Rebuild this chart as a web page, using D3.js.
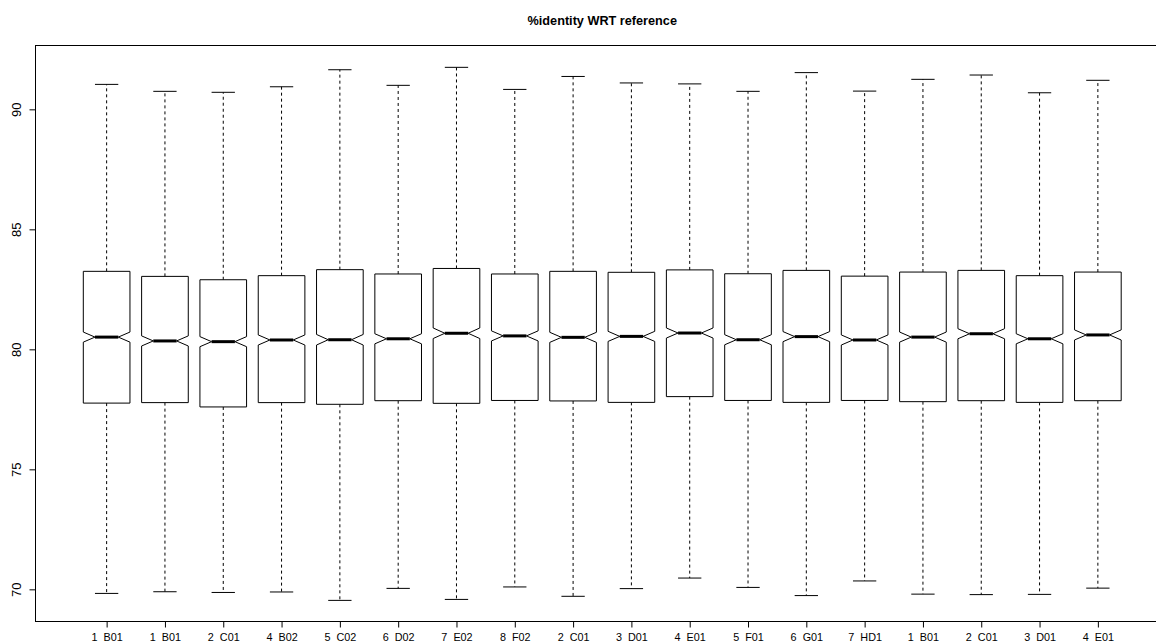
<!DOCTYPE html>
<html>
<head>
<meta charset="utf-8">
<script src="https://cdn.jsdelivr.net/npm/d3@7"></script>
<style>
  html, body { margin: 0; padding: 0; background: #fff; }
  svg { display: block; }
  text { font-family: "Liberation Sans", Arial, Helvetica, sans-serif; fill: #000; white-space: pre; }
</style>
</head>
<body>
<svg id="chart" width="1156" height="644"></svg>
<script>
// ---- data ----
const categories = ["1  B01","1  B01","2  C01","4  B02","5  C02","6  D02","7  E02","8  F02","2  C01",
                    "3  D01","4  E01","5  F01","6  G01","7  HD1","1  B01","2  C01","3  D01","4  E01"];
const upperWhisker = [91.04,90.75,90.71,90.94,91.65,91.00,91.75,90.83,91.37,
                      91.10,91.06,90.75,91.53,90.76,91.25,91.43,90.69,91.21];
const q3 = [83.25,83.04,82.90,83.07,83.32,83.14,83.37,83.14,83.25,
            83.21,83.31,83.15,83.29,83.05,83.22,83.29,83.07,83.22];
const median = [80.51,80.35,80.32,80.39,80.40,80.44,80.67,80.56,80.50,
                80.54,80.68,80.40,80.53,80.39,80.51,80.65,80.44,80.60];
const q1 = [77.76,77.78,77.60,77.78,77.71,77.86,77.75,77.87,77.85,
            77.79,78.03,77.87,77.79,77.87,77.82,77.86,77.79,77.86];
const lowerWhisker = [69.83,69.90,69.87,69.89,69.54,70.04,69.58,70.10,69.71,
                      70.03,70.47,70.08,69.74,70.35,69.80,69.78,69.79,70.05];
const notchHalf = [0.21,0.21,0.21,0.21,0.22,0.21,0.22,0.21,0.21,
                   0.21,0.21,0.21,0.21,0.21,0.21,0.21,0.21,0.21];
const yTicks = [70, 75, 80, 85, 90];
const title = "%identity WRT reference";

// ---- layout ----
const svg = d3.select("#chart");
const n = categories.length;
const xPad = (n) * 0.04;
const x = d3.scaleLinear().domain([0.5 - xPad, n + 0.5 + xPad]).range([35.5, 1169]);
const y = d3.scaleLinear().domain([68.66, 92.66]).range([621.5, 45.5]);
const unit = x(2) - x(1);
const boxW = 0.8 * unit;
const capW = boxW / 2;

// plot frame
svg.append("rect")
  .attr("x", x.range()[0]).attr("y", y.range()[1])
  .attr("width", x.range()[1] - x.range()[0])
  .attr("height", y.range()[0] - y.range()[1])
  .attr("fill", "none").attr("stroke", "#000").attr("stroke-width", 1);

// title
svg.append("text")
  .attr("x", (x.range()[0] + x.range()[1]) / 2)
  .attr("y", 25)
  .attr("text-anchor", "middle")
  .attr("font-weight", "bold")
  .attr("font-size", "12.7px")
  .text(title);

// y axis
const yAxis = d3.axisLeft(y).tickValues(yTicks).tickSize(6).tickFormat(d3.format("d"));
const gy = svg.append("g").attr("transform", `translate(${x.range()[0]},0)`).call(yAxis);
gy.select(".domain").attr("d", `M-0,${y(70)}H0V${y(90)}H-0`).attr("stroke", "#000");
gy.selectAll(".tick line").attr("stroke", "#000");
gy.selectAll(".tick text")
  .attr("font-size", "13px")
  .attr("font-family", "Liberation Sans, Arial, sans-serif")
  .attr("x", null).attr("dy", null)
  .attr("text-anchor", "middle")
  .attr("transform", "translate(-14.5,0) rotate(-90)");

// x axis
const xAxis = d3.axisBottom(x).tickValues(d3.range(1, n + 1)).tickSize(6)
  .tickFormat(i => categories[i - 1]);
const gx = svg.append("g").attr("transform", `translate(0,${y.range()[0]})`).call(xAxis);
gx.select(".domain").attr("d", `M${x(1)},0H${x(n)}`).attr("stroke", "#000");
gx.selectAll(".tick line").attr("stroke", "#000");
gx.selectAll(".tick text")
  .attr("font-size", "10.8px")
  .attr("font-family", "Liberation Sans, Arial, sans-serif")
  .attr("y", 19).attr("dy", null);

// boxes
const idx = d3.range(n);
const g = svg.append("g");

// whiskers (dashed)
g.selectAll("line.wu").data(idx).join("line")
  .attr("x1", i => x(i + 1)).attr("x2", i => x(i + 1))
  .attr("y1", i => y(q3[i])).attr("y2", i => y(upperWhisker[i]))
  .attr("stroke", "#000").attr("stroke-dasharray", "3,3");
g.selectAll("line.wl").data(idx).join("line")
  .attr("x1", i => x(i + 1)).attr("x2", i => x(i + 1))
  .attr("y1", i => y(q1[i])).attr("y2", i => y(lowerWhisker[i]))
  .attr("stroke", "#000").attr("stroke-dasharray", "3,3");

// caps
g.selectAll("line.cu").data(idx).join("line")
  .attr("x1", i => x(i + 1) - capW / 2).attr("x2", i => x(i + 1) + capW / 2)
  .attr("y1", i => y(upperWhisker[i])).attr("y2", i => y(upperWhisker[i]))
  .attr("stroke", "#000");
g.selectAll("line.cl").data(idx).join("line")
  .attr("x1", i => x(i + 1) - capW / 2).attr("x2", i => x(i + 1) + capW / 2)
  .attr("y1", i => y(lowerWhisker[i])).attr("y2", i => y(lowerWhisker[i]))
  .attr("stroke", "#000");

// notched box
g.selectAll("path.box").data(idx).join("path")
  .attr("d", i => {
    const cx = x(i + 1), l = cx - boxW / 2, r = cx + boxW / 2;
    const li = cx - boxW / 4, ri = cx + boxW / 4;
    const nt = y(median[i] + notchHalf[i]), nb = y(median[i] - notchHalf[i]), m = y(median[i]);
    return `M${l},${y(q1[i])}L${l},${nb}L${li},${m}L${l},${nt}L${l},${y(q3[i])}` +
           `L${r},${y(q3[i])}L${r},${nt}L${ri},${m}L${r},${nb}L${r},${y(q1[i])}Z`;
  })
  .attr("fill", "#fff").attr("stroke", "#000").attr("stroke-width", 1);

// medians
g.selectAll("line.med").data(idx).join("line")
  .attr("x1", i => x(i + 1) - boxW / 4).attr("x2", i => x(i + 1) + boxW / 4)
  .attr("y1", i => y(median[i])).attr("y2", i => y(median[i]))
  .attr("stroke", "#000").attr("stroke-width", 3);
</script>
</body>
</html>
